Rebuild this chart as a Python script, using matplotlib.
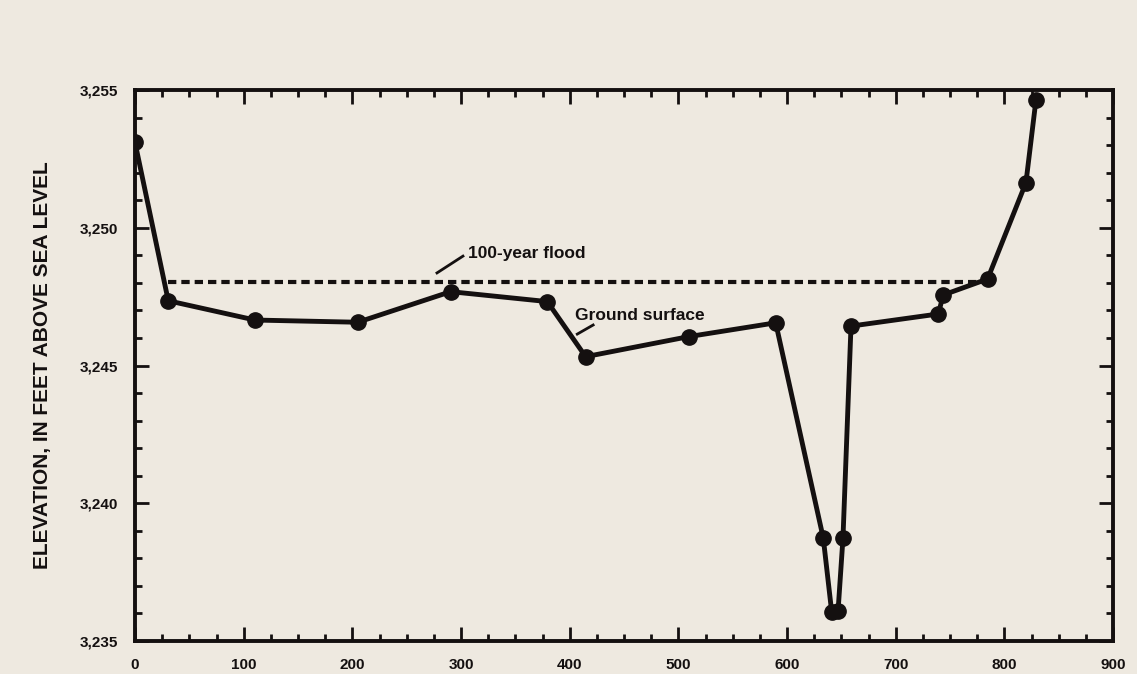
import matplotlib.pyplot as plt
from matplotlib.ticker import MultipleLocator, FuncFormatter

# ground surface survey points (distance, elevation)
distance = [0, 30.6, 110.4, 205, 290.5, 379.4, 414.7, 509.8, 589.6, 633.4,
            641.1, 647, 651.5, 658.9, 739.2, 743.8, 784.6, 819.9, 829.1]
elevation = [3253.1, 3247.35, 3246.65, 3246.57, 3247.68, 3247.32, 3245.32,
             3246.05, 3246.55, 3238.73, 3236.06, 3236.1, 3238.73, 3246.43,
             3246.87, 3247.56, 3248.14, 3251.64, 3254.64]

flood_x = [30, 784.6]
flood_y = [3248.02, 3248.02]

bg = '#eee9e0'
ink = '#141010'
plt.rcParams['font.family'] = ['Liberation Sans', 'DejaVu Sans']
plt.rcParams['font.weight'] = 'bold'

fig = plt.figure(figsize=(11.37, 6.74), dpi=100, facecolor=bg)
ax = fig.add_axes([135 / 1137, 1 - 641 / 674, (1113 - 135) / 1137, (641 - 90) / 674])
ax.set_facecolor(bg)

ax.plot(flood_x, flood_y, color=ink, lw=3, ls=(0, (2.0, 1.2)), zorder=2)
ax.plot(distance, elevation, color=ink, lw=3.5, marker='o', ms=11,
        solid_joinstyle='round', zorder=3)

# annotations
ax.plot([277.9, 301.8], [3248.36, 3248.97], color=ink, lw=2)
ax.text(306.4, 3249.05, '100-year flood', fontsize=12.5, fontweight='bold',
        va='center', ha='left', color=ink)
ax.plot([407, 421.6], [3246.14, 3246.47], color=ink, lw=2)
ax.text(404.9, 3246.83, 'Ground surface', fontsize=12.5, fontweight='bold',
        va='center', ha='left', color=ink)

ax.set_xlim(0, 900)
ax.set_ylim(3235, 3255)
ax.xaxis.set_major_locator(MultipleLocator(100))
ax.xaxis.set_minor_locator(MultipleLocator(25))
ax.yaxis.set_major_locator(MultipleLocator(5))
ax.yaxis.set_minor_locator(MultipleLocator(1))
ax.yaxis.set_major_formatter(FuncFormatter(lambda v, p: f'{int(v):,}'))

ax.tick_params(which='both', direction='in', top=True, right=True,
               color=ink, width=2, labelcolor=ink)
ax.tick_params(which='major', length=10, labelsize=11, pad=12)
ax.tick_params(which='minor', length=5)
for s in ax.spines.values():
    s.set_linewidth(2.8)
    s.set_color(ink)

ax.set_ylabel('ELEVATION, IN FEET ABOVE SEA LEVEL', fontsize=15,
              fontweight='bold', labelpad=20, color=ink)

fig.savefig('out.png', dpi=100, facecolor=bg)
